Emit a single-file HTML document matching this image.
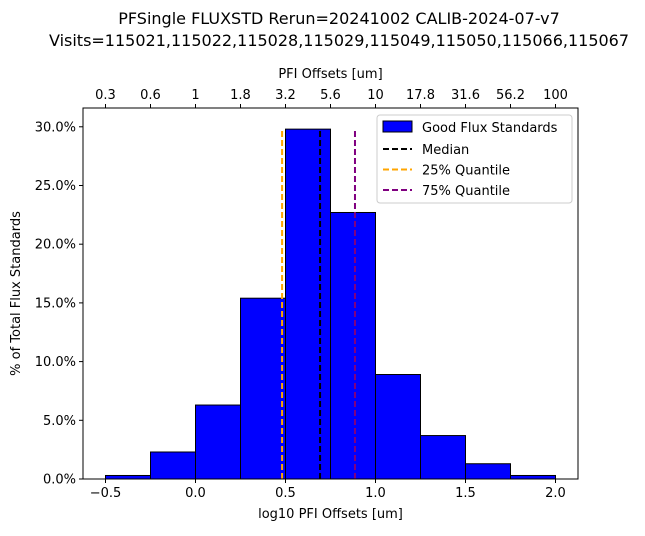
<!DOCTYPE html>
<html><head><meta charset="utf-8"><style>
body{margin:0;background:#fff;font-family:"Liberation Sans","DejaVu Sans",sans-serif}
svg text{font-family:"DejaVu Sans","Liberation Sans",sans-serif}
</style></head><body>
<svg id="chart" width="645" height="531">
<text x="339" y="24" font-size="16" text-anchor="middle">PFSingle FLUXSTD Rerun=20241002 CALIB-2024-07-v7</text>
<text x="339" y="46" font-size="16" text-anchor="middle">Visits=115021,115022,115028,115029,115049,115050,115066,115067</text>
<g id="bars"></g><g id="lines"></g><g id="axes"></g>
</svg>
<script>
const binEdges=[-0.5,-0.25,0,0.25,0.5,0.75,1.0,1.25,1.5,1.75,2.0];
const binValues=[0.3,2.3,6.3,15.4,29.8,22.7,8.9,3.7,1.3,0.3];
const xTicks=[-0.5,0.0,0.5,1.0,1.5,2.0];
const yTicks=[0,5,10,15,20,25,30];
const topTicks=[-0.5,-0.25,0,0.25,0.5,0.75,1.0,1.25,1.5,1.75,2.0];
const topLabels=["0.3","0.6","1","1.8","3.2","5.6","10","17.8","31.6","56.2","100"];
const quantiles=[0.481,0.692,0.886];
const quantileColors=["orange","black","purple"];
const L=83,R=578,T=108,B=479;
const xMin=-0.625,xMax=2.125,yMax=31.6;
const X=v=>L+(v-xMin)/(xMax-xMin)*(R-L);
const Y=v=>B-v/yMax*(B-T);
const NS="http://www.w3.org/2000/svg";
function mk(tag,attrs,parent,text){const e=document.createElementNS(NS,tag);for(const k in attrs)e.setAttribute(k,attrs[k]);if(text!==undefined)e.textContent=text;parent.appendChild(e);return e;}
const gb=document.getElementById('bars'),gl=document.getElementById('lines'),ga=document.getElementById('axes');
binValues.forEach((v,i)=>{
 const r=mk('rect',{x:X(binEdges[i]),y:Y(v),width:X(binEdges[i+1])-X(binEdges[i]),height:Y(0)-Y(v),fill:'#0000ff',stroke:'#000','stroke-width':1},gb);
 
 
});
const qmax=Math.max(...binValues);
quantiles.forEach((q,i)=>{
 const l=mk('line',{x1:X(q),x2:X(q),y1:Y(0),y2:Y(qmax),stroke:quantileColors[i],'stroke-width':2,'stroke-dasharray':'6,3'},gl);
 
 
});
mk('rect',{x:L,y:T,width:R-L,height:B-T,fill:'none',stroke:'#000','stroke-width':1},ga);
xTicks.forEach(t=>{
 mk('line',{x1:X(t),x2:X(t),y1:B,y2:B+4,stroke:'#000'},ga);
 const tx=mk('text',{x:X(t),y:B+18,'font-size':13,'text-anchor':'middle'},ga,t<0?'\u2212'+Math.abs(t).toFixed(1):t.toFixed(1));
 
 
});
yTicks.forEach(t=>{
 mk('line',{x1:L-4,x2:L,y1:Y(t),y2:Y(t),stroke:'#000'},ga);
 const tx=mk('text',{x:L-7,y:Y(t)+4.5,'font-size':13,'text-anchor':'end'},ga,t.toFixed(1)+'%');
 
 
});
topTicks.forEach((t,i)=>{
 mk('line',{x1:X(t),x2:X(t),y1:T-4,y2:T,stroke:'#000'},ga);
 const tx=mk('text',{x:X(t),y:T-9,'font-size':13,'text-anchor':'middle'},ga,topLabels[i]);
 
 
});
let e;
e=mk('text',{x:(L+R)/2,y:78,'font-size':13,'text-anchor':'middle'},ga,'PFI Offsets [um]');


e=mk('text',{x:(L+R)/2,y:518,'font-size':13,'text-anchor':'middle'},ga,'log10 PFI Offsets [um]');


e=mk('text',{x:0,y:0,'font-size':13,'text-anchor':'middle',transform:'translate(20,'+((T+B)/2)+') rotate(-90)'},ga,'% of Total Flux Standards');


const lg=mk('g',{},ga);


mk('rect',{x:377,y:115,width:195,height:88,rx:3,fill:'#fff',stroke:'#ccc'},lg);
mk('rect',{x:383,y:121,width:29,height:11,fill:'#0000ff',stroke:'#000'},lg);
mk('text',{x:422,y:132,'font-size':13},lg,'Good Flux Standards');
const names=['Median','25% Quantile','75% Quantile'],cols=['black','orange','purple'];
names.forEach((n,i)=>{
 const y=149+i*20.5;
 mk('line',{x1:383,x2:412,y1:y,y2:y,stroke:cols[i],'stroke-width':2,'stroke-dasharray':'6,3'},lg);
 const t=mk('text',{x:422,y:y+5,'font-size':13},lg,n);
 
 
});
</script>
</body></html>
